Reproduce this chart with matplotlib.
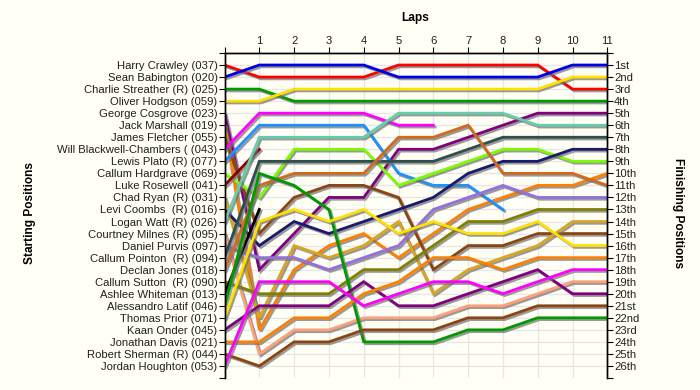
import matplotlib
matplotlib.use('Agg')
import matplotlib.pyplot as plt
import matplotlib.patheffects as pe

plt.rcParams['font.family'] = ['Liberation Sans', 'DejaVu Sans']

drivers = ["Harry Crawley (037)", "Sean Babington (020)", "Charlie Streather (R) (025)",
           "Oliver Hodgson (059)", "George Cosgrove (023)", "Jack Marshall (019)",
           "James Fletcher (055)", "Will Blackwell-Chambers ( (043)", "Lewis Plato (R) (077)",
           "Callum Hardgrave (069)", "Luke Rosewell (041)", "Chad Ryan (R) (031)",
           "Levi Coombs  (R) (016)", "Logan Watt (R) (026)", "Courtney Milnes (R) (095)",
           "Daniel Purvis (097)", "Callum Pointon  (R) (094)", "Declan Jones (018)",
           "Callum Sutton  (R) (090)", "Ashlee Whiteman (013)", "Alessandro Latif (046)",
           "Thomas Prior (071)", "Kaan Onder (045)", "Jonathan Davis (021)",
           "Robert Sherman (R) (044)", "Jordan Houghton (053)"]

colors = ["#FF0000", "#0000E6", "#009A00", "#FFE000", "#800080", "#FF8000",
          "#8B4513", "#FF00FF", "#1E90FF", "#7CFC00", "#8B0000", "#DAA520",
          "#191970", "#66CDAA", "#FFA07A", "#9370DB", "#2F4F4F", "#D2691E",
          "#808000", "#000000", "#009A00", "#FFE000", "#800080", "#FF8000",
          "#8B4513", "#FF00FF"]

laps = list(range(0, 12))

positions = [
    [1, 2, 2, 2, 2, 1, 1, 1, 1, 1, 3, 3],
    [2, 1, 1, 1, 1, 2, 2, 2, 2, 2, 1, 1],
    [3, 3, 4, 4, 4, 4, 4, 4, 4, 4, 4, 4],
    [4, 4, 3, 3, 3, 3, 3, 3, 3, 3, 2, 2],
    [5, 18, 15, 12, 12, 8, 8, 7, 6, 5, 5, 5],
    [6, 23, 18, 16, 15, 17, 15, 13, 12, 11, 11, 10],
    [7, 15, 12, 11, 11, 12, 18, 16, 16, 15, 15, 15],
    [8, 5, 5, 5, 5, 6, 6],
    [9, 6, 6, 6, 6, 10, 11, 11, 13],
    [10, 12, 8, 8, 8, 11, 10, 9, 8, 8, 9, 9],
    [11, 8],
    [12, 22, 16, 17, 16, 14, 20, 18, 17, 16, 14, 14],
    [13, 16, 14, 15, 14, 13, 12, 10, 9, 9, 8, 8],
    [14, 7, 7, 7, 7, 5, 5, 5, 5, 6, 6, 6],
    [15, 25, 23, 23, 22, 22, 22, 21, 21, 20, 19, 19],
    [16, 17, 17, 18, 17, 16, 13, 12, 11, 12, 12, 12],
    [17, 9, 9, 9, 9, 9, 9, 8, 7, 7, 7, 7],
    [18, 11, 10, 10, 10, 7, 7, 6, 10, 10, 10, 11],
    [19, 20, 20, 20, 18, 18, 16, 14, 14, 13, 13, 13],
    [20, 13],
    [21, 10, 11, 13, 24, 24, 24, 23, 23, 22, 22, 22],
    [22, 14, 13, 14, 13, 15, 14, 15, 15, 14, 16, 16],
    [23, 21, 21, 21, 19, 21, 21, 20, 19, 18, 20, 20],
    [24, 24, 22, 22, 20, 19, 17, 17, 18, 17, 17, 17],
    [25, 26, 24, 24, 23, 23, 23, 22, 22, 21, 21, 21],
    [26, 19, 19, 19, 21, 20, 19, 19, 20, 19, 18, 18],
]

finish_labels = ["1st", "2nd", "3rd", "4th", "5th", "6th", "7th", "8th", "9th", "10th",
                 "11th", "12th", "13th", "14th", "15th", "16th", "17th", "18th", "19th",
                 "20th", "21st", "22nd", "23rd", "24th", "25th", "26th"]

bg = "#FFFFF5"
fig = plt.figure(figsize=(7, 3.9), dpi=100, facecolor=bg)
ax = fig.add_axes([224.5 / 700, 1 - 378 / 390, (607.3 - 224.5) / 700, (378 - 53) / 390])
ax.set_facecolor(bg)

n = len(drivers)
ax.set_xlim(0, 11)
ax.set_ylim(n + 1, 0)

for x in laps[1:]:
    ax.axvline(x, color="#E6E6E6", lw=0.9, zorder=0)
for y in range(1, n + 1):
    ax.axhline(y, color="#E6E6E6", lw=0.9, zorder=0)

shadow = [pe.SimpleLineShadow(offset=(1.3, -1.3), shadow_color="#707070", alpha=0.7),
          pe.Normal()]
for i, (pos, c) in enumerate(zip(positions, colors)):
    ax.plot(laps[:len(pos)], pos, color=c, lw=2.0, solid_joinstyle="miter",
            path_effects=shadow, zorder=2 + i * 0.01)

fs = 8.1
ax.set_yticks(range(0, n + 2))
ax.set_yticklabels([""] + drivers + [""], fontsize=fs, color="#202020")
ax.xaxis.tick_top()
ax.set_xticks(laps)
ax.set_xticklabels([""] + [str(l) for l in laps[1:]], fontsize=fs, color="#202020")
ax.tick_params(axis="x", length=4, width=0.8, pad=1)
ax.tick_params(axis="y", length=4, width=0.8, pad=1)

ax2 = ax.twinx()
ax2.set_ylim(n + 1, 0)
ax2.set_yticks(range(0, n + 2))
ax2.set_yticklabels([""] + finish_labels + [""], fontsize=fs, color="#202020")
ax2.tick_params(axis="y", length=4, width=0.8, pad=1)

for a in (ax, ax2):
    a.spines["bottom"].set_visible(False)
    for s in ("top", "left", "right"):
        a.spines[s].set_linewidth(1.0)

fig.text(415 / 700, 1 - 18 / 390, "Laps", ha="center", va="center", fontsize=8.6, fontweight="bold")
fig.text(30 / 700, 1 - 213 / 390, "Starting Positions", ha="center", va="center",
         rotation=90, fontsize=8.6, fontweight="bold")
fig.text(678 / 700, 1 - 213 / 390, "Finishing Positions", ha="center", va="center",
         rotation=-90, fontsize=8.6, fontweight="bold")

fig.savefig("out.png", dpi=100, facecolor=bg)
